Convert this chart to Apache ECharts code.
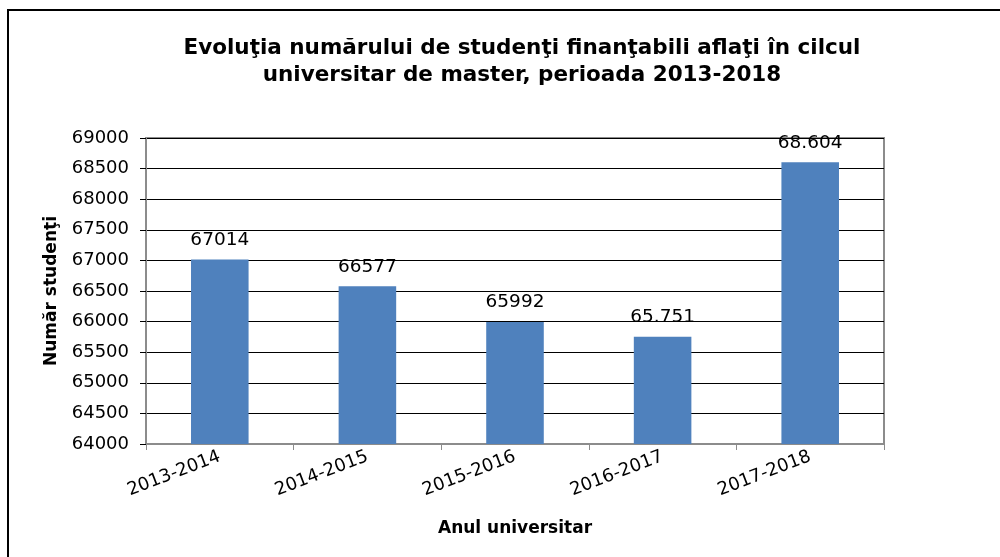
<!DOCTYPE html>
<html lang="ro">

<head>
  <meta charset="UTF-8">
  <script src="https://cdn.jsdelivr.net/npm/echarts@6/dist/echarts.min.js"></script>
  <title>Studenti master</title>
  <style>
    html,
    body {
      margin: 0;
      padding: 0;
      background: #fff;
    }

    #frame {
      position: absolute;
      left: 7px;
      top: 9px;
      width: 993px;
      height: 548px;
      border-left: 2px solid #000;
      border-top: 2px solid #000;
      box-sizing: border-box;
    }

    main {
      position: absolute;
      left: 0;
      top: 0;
      width: 1000px;
      height: 557px;
    }
  </style>
</head>

<body>
  <div id="frame"></div>
  <main></main>
</body>
<script>
  const years = ['2013-2014', '2014-2015', '2015-2016', '2016-2017', '2017-2018']
  const students = [67014, 66577, 65992, 65751, 68604]
  const labels = ['67014', '66577', '65992', '65.751', '68.604']

  const font = '"DejaVu Sans", sans-serif'

  const option = {
    animation: false,
    textStyle: { fontFamily: font },
    title: {
      text: 'Evoluţia numărului de studenţi finanţabili aflaţi în cilcul\nuniversitar de master, perioada 2013-2018',
      left: 517,
      top: 30,
      textAlign: 'center',
      textStyle: {
        fontFamily: font,
        fontSize: 21.5,
        fontWeight: 'bold',
        color: '#000',
        lineHeight: 27
      }
    },
    grid: {
      left: 146,
      right: 116,
      top: 138,
      bottom: 113,
      show: true,
      borderColor: '#8c8c8c',
      borderWidth: 2
    },
    xAxis: {
      type: 'category',
      data: years,
      name: 'Anul universitar',
      nameLocation: 'middle',
      nameGap: 76,
      nameTextStyle: { fontFamily: font, fontSize: 17, fontWeight: 'bold', color: '#000' },
      axisLine: { lineStyle: { color: '#8c8c8c', width: 2 } },
      axisTick: { show: true, length: 6, lineStyle: { color: '#8c8c8c' } },
      axisLabel: {
        rotate: 21,
        fontFamily: font,
        fontSize: 18,
        color: '#000',
        margin: 12
      }
    },
    yAxis: {
      type: 'value',
      min: 64000,
      max: 69000,
      interval: 500,
      name: 'Număr studenţi',
      nameLocation: 'middle',
      nameGap: 86,
      nameTextStyle: { fontFamily: font, fontSize: 17, fontWeight: 'bold', color: '#000' },
      axisLine: { show: true, lineStyle: { color: '#8c8c8c', width: 2 } },
      axisTick: { show: true, length: 6, lineStyle: { color: '#000' } },
      axisLabel: {
        fontFamily: font,
        fontSize: 18,
        color: '#000',
        margin: 17,
        formatter: (v) => String(v)
      },
      splitLine: { lineStyle: { color: '#000', width: 1 } }
    },
    series: [
      {
        type: 'bar',
        data: students,
        barWidth: '39%',
        itemStyle: { color: '#4f81bd' },
        label: {
          show: true,
          position: 'top',
          distance: 10,
          fontFamily: font,
          fontSize: 18.5,
          color: '#000',
          formatter: (p) => labels[p.dataIndex]
        }
      }
    ]
  }

  const ins = echarts.init(document.getElementsByTagName('main')[0])
  ins.setOption(option)
</script>

</html>
